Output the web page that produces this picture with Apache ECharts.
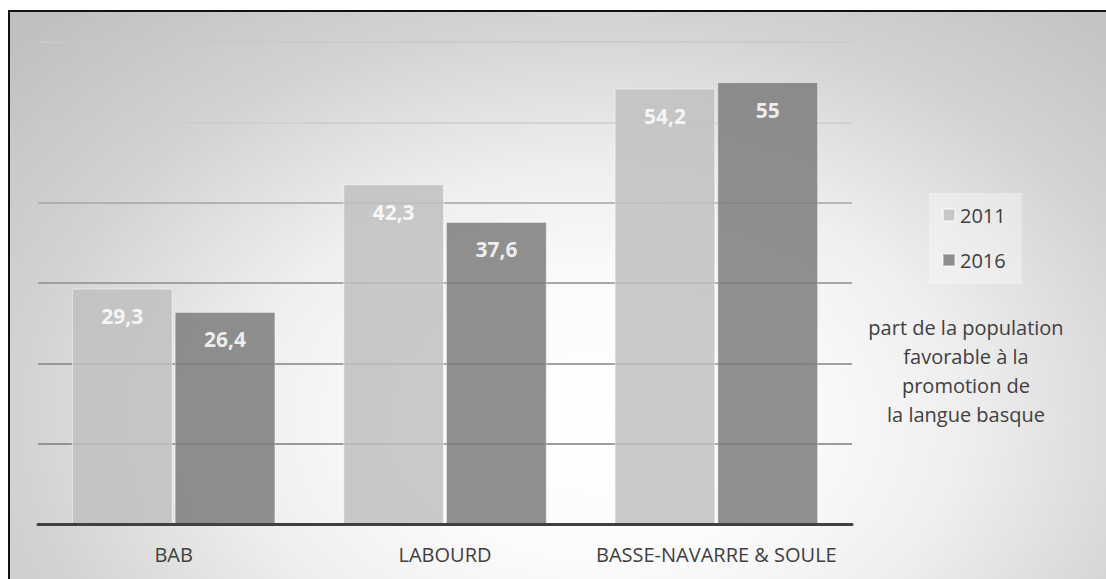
<!DOCTYPE html>
<html>
<head>
<meta charset="utf-8">
<script src="https://cdn.jsdelivr.net/npm/echarts@6/dist/echarts.min.js"></script>
<style>
    html, body { margin: 0; padding: 0; background: #fff; }
    #frame {
        position: absolute; left: 8px; top: 10px;
        width: 1100px; height: 571px;
        border-top: 2px solid #111; border-left: 2px solid #111;
        background: radial-gradient(ellipse 800px 560px at 590px 410px, #ffffff 0%, #fbfbfb 25%, #efefef 45%, #d3d3d3 72%, #c0c0c0 100%);
    }
    #chart { position: absolute; left: 0; top: 0; width: 1106px; height: 579px; }
</style>
</head>
<body>
<div id="frame"></div>
<div id="chart"></div>
<script>
    // valeurs
    let categories = ['BAB', 'LABOURD', 'BASSE-NAVARRE & SOULE']
    let years = ['2011', '2016']
    let values2011 = [29.3, 42.3, 54.2]
    let values2016 = [26.4, 37.6, 55]
    let noteLines = ['part de la population', 'favorable à la', 'promotion de', 'la langue basque']

    const font = '"Open Sans", "DejaVu Sans", sans-serif'
    let chart = document.getElementById('chart')
    let myChart = echarts.init(chart, null, {renderer: 'svg'})

    let barLabel = {
        show: true,
        position: 'insideTop',
        distance: 17,
        color: '#fff',
        fontWeight: 'bold',
        fontSize: 21,
        fontFamily: font,
        formatter: function (p) {
            return String(p.value).replace('.', ',')
        }
    }

    const option = {
        backgroundColor: 'transparent',
        textStyle: {fontFamily: font},
        grid: {
            left: 38,
            right: 254,
            top: 42,
            bottom: 55,
            containLabel: false
        },
        legend: {
            orient: 'vertical',
            left: 929,
            top: 193,
            padding: [11, 16, 13, 13],
            backgroundColor: 'rgba(255,255,255,0.35)',
            itemWidth: 12,
            itemHeight: 12,
            itemGap: 23,
            icon: 'rect',
            data: years,
            textStyle: {
                fontSize: 20,
                lineHeight: 22,
                color: '#404040',
                fontFamily: font
            }
        },
        graphic: [{
            type: 'text',
            x: 966,
            y: 313,
            silent: true,
            style: {
                text: noteLines.join('\n'),
                textAlign: 'center',
                fill: '#404040',
                fontSize: 20,
                fontFamily: font,
                lineHeight: 29
            }
        }],
        xAxis: {
            type: 'category',
            data: categories,
            z: 3,
            axisTick: {show: false},
            axisLine: {
                lineStyle: {color: '#404040', width: 3}
            },
            axisLabel: {
                interval: 0,
                margin: 20,
                fontSize: 20,
                color: '#404040',
                fontFamily: font
            }
        },
        yAxis: {
            type: 'value',
            min: 0,
            max: 60,
            interval: 10,
            axisLabel: {show: false},
            axisLine: {show: false},
            axisTick: {show: false},
            splitLine: {
                lineStyle: {
                    width: 1.5,
                    color: ['#888888', '#7c7c7c', '#838383', '#8c8c8c', '#a4a4a4', '#cdcdcd', '#c8c8c8']
                }
            }
        },
        series: [
            {
                name: years[0],
                type: 'bar',
                barCategoryGap: '25%',
                barGap: '2%',
                data: values2011,
                itemStyle: {
                    color: '#bfbfbf',
                    opacity: 0.85,
                    borderColor: 'rgba(255,255,255,0.6)',
                    borderWidth: 1
                },
                label: barLabel
            },
            {
                name: years[1],
                type: 'bar',
                barCategoryGap: '25%',
                barGap: '2%',
                data: values2016,
                itemStyle: {
                    color: '#7d7d7d',
                    opacity: 0.85,
                    borderColor: 'rgba(255,255,255,0.45)',
                    borderWidth: 1
                },
                label: barLabel
            }
        ]
    }
    myChart.setOption(option)
</script>
</body>
</html>
